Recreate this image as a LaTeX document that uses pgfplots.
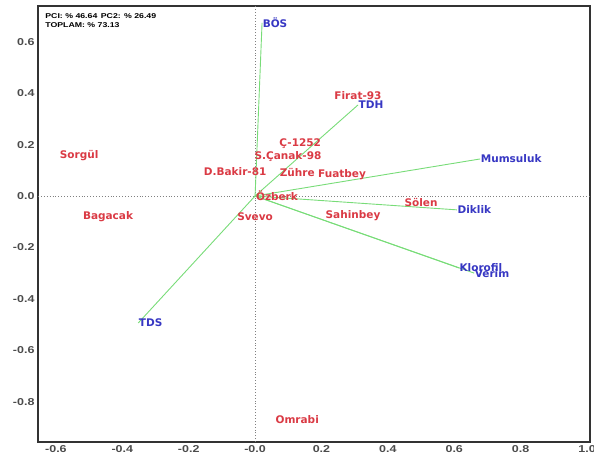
\documentclass[border=0pt]{standalone}
\usepackage{fontspec}
\setmainfont{Liberation Sans}
\newfontfamily\djv{DejaVu Sans}
\newfontfamily\tickfont{Liberation Sans}[FakeStretch=1.25]
\usepackage{pgfplots}
\usepackage{pgfplotstable}
\pgfplotsset{compat=1.18}
\definecolor{labred}{RGB}{218,58,68}
\definecolor{labblue}{RGB}{55,55,195}
\definecolor{vecgreen}{RGB}{120,220,120}
\definecolor{tickgray}{RGB}{75,75,75}

\pgfplotstableread{
x y label
-0.530 0.156 Sorgül
-0.443 -0.082 Bagacak
0.310 0.389 Firat-93
0.136 0.202 Ç-1252
0.099 0.152 S.Çanak-98
-0.060 0.093 D.Bakir-81
0.127 0.093 Zühre
0.262 0.082 Fuatbey
0.066 0.000 Özberk
0.000 -0.082 Svevo
0.295 -0.078 Sahinbey
0.500 -0.027 Sölen
0.127 -0.868 Omrabi
}\genotypes

\pgfplotstableread{
x y label
0.021 0.673 BÖS
0.310 0.354 TDH
0.678 0.144 Mumsuluk
0.608 -0.054 Diklik
0.614 -0.280 Klorofil
0.660 -0.300 Verim
-0.352 -0.494 TDS
}\traits

\begin{document}
\begin{tikzpicture}
\begin{axis}[
  scale only axis, width=552pt, height=436pt,
  xmin=-0.654, xmax=1.009, ymin=-0.957, ymax=0.739,
  xtick={-0.6,-0.4,-0.2,0,0.2,0.4,0.6,0.8,1.0},
  xticklabels={-0.6,-0.4,-0.2,-0.0,0.2,0.4,0.6,0.8,1.0},
  ytick={-0.8,-0.6,-0.4,-0.2,0,0.2,0.4,0.6},
  yticklabels={-0.8,-0.6,-0.4,-0.2,0.0,0.2,0.4,0.6},
  major tick length=0pt,
  tick label style={font=\tickfont\bfseries\fontsize{10}{12}\selectfont, text=tickgray},
  axis line style={line width=1.6pt, draw=black!80},
  clip=false,
]
\coordinate (sw) at (rel axis cs:0,0);
\coordinate (ne) at (rel axis cs:1,1);
% zero lines
\addplot[gray, dotted, line width=0.9pt] coordinates {(0,-0.957) (0,0.739)};
\addplot[gray, dotted, line width=0.9pt] coordinates {(-0.654,0) (1.009,0)};
% trait vectors
\addplot[vecgreen, line width=0.9pt] coordinates {(0,0) (0.021,0.673)};
\addplot[vecgreen, line width=0.9pt] coordinates {(0,0) (0.310,0.354)};
\addplot[vecgreen, line width=0.9pt] coordinates {(0,0) (0.678,0.144)};
\addplot[vecgreen, line width=0.9pt] coordinates {(0,0) (0.608,-0.054)};
\addplot[vecgreen, line width=0.9pt] coordinates {(0,0) (0.614,-0.280)};
\addplot[vecgreen, line width=0.9pt] coordinates {(0,0) (0.660,-0.300)};
\addplot[vecgreen, line width=0.9pt] coordinates {(0,0) (-0.352,-0.494)};
% genotype labels
\addplot[only marks, mark=none, nodes near coords, point meta=explicit symbolic,
  every node near coord/.append style={anchor=center, inner sep=0pt,
    font=\djv\bfseries\fontsize{10.5}{12}\selectfont, text=labred}]
  table[x=x, y=y, meta=label] {\genotypes};
% trait labels
\addplot[only marks, mark=none, nodes near coords, point meta=explicit symbolic,
  every node near coord/.append style={anchor=west, inner sep=0.5pt,
    font=\djv\bfseries\fontsize{10.5}{12}\selectfont, text=labblue}]
  table[x=x, y=y, meta=label] {\traits};
\node[anchor=north west, inner sep=0pt, align=left,
  font=\tickfont\bfseries\fontsize{7}{9}\selectfont]
  at (rel axis cs:0.013,0.982) {PCI: \% 46.64\enspace PC2: \% 26.49\\TOPLAM: \% 73.13};
\end{axis}
\pgfresetboundingbox
\path[use as bounding box] ([xshift=-38pt,yshift=-14pt]sw) rectangle ([xshift=4pt,yshift=6pt]ne);
\end{tikzpicture}
\end{document}
